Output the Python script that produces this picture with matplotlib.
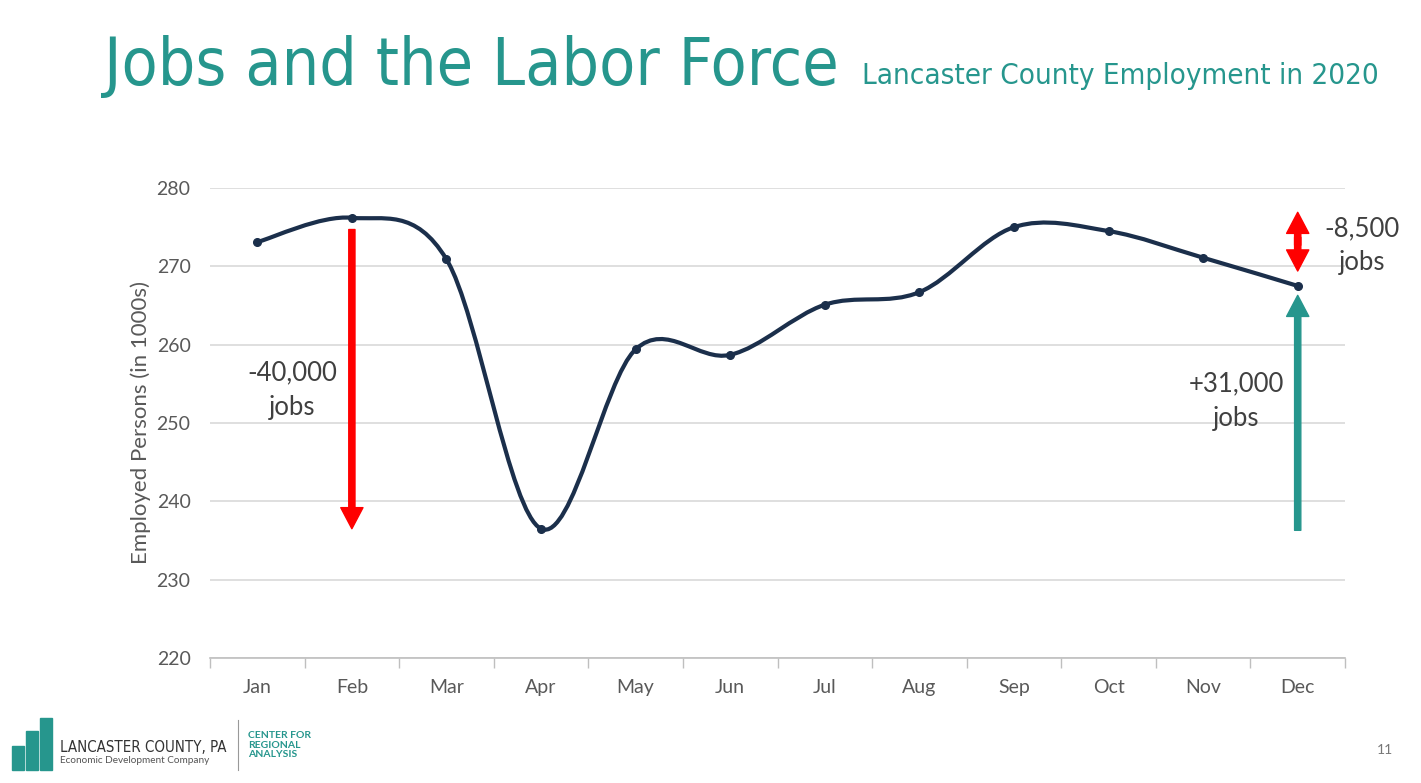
import matplotlib.pyplot as plt
import numpy as np
from matplotlib.path import Path
from matplotlib.patches import PathPatch, Rectangle

## -- data
months   = ['Jan','Feb','Mar','Apr','May','Jun','Jul','Aug','Sep','Oct','Nov','Dec']
employed = [273.1, 276.2, 270.9, 236.5, 259.4, 258.7, 265.1, 266.7, 275.0, 274.5, 271.1, 267.5]
yticks   = [220, 230, 240, 250, 260, 270, 280]

teal  = '#26968D'
navy  = '#1B2F4B'
grey  = '#595959'
W, H  = 1421, 783

plt.rcParams['font.family'] = ['Lato', 'DejaVu Sans']

def fx(px): return px / W
def fy(py): return 1 - py / H

def smooth_path(x, y):
 ## -- excel style bezier smoothing, control points from neighbours
 n = len(x)
 verts = [(x[0], y[0])]
 codes = [Path.MOVETO]
 for i in range(n - 1):
  x0, y0 = (x[i-1], y[i-1]) if i > 0 else (x[i], y[i])
  x3, y3 = (x[i+2], y[i+2]) if i < n - 2 else (x[i+1], y[i+1])
  c1 = (x[i] + (x[i+1] - x0) / 6., y[i] + (y[i+1] - y0) / 6.)
  c2 = (x[i+1] - (x3 - x[i]) / 6., y[i+1] - (y3 - y[i]) / 6.)
  verts += [c1, c2, (x[i+1], y[i+1])]
  codes += [Path.CURVE4] * 3
 return Path(verts, codes)

fig = plt.figure(figsize=(W / 100., H / 100.), dpi=100)
fig.patch.set_facecolor('white')
ax = fig.add_axes([fx(210), fy(658), fx(1345) - fx(210), (658 - 188) / H])

xs = np.arange(len(months))
ax.add_patch(PathPatch(smooth_path(xs, employed), facecolor='none',
 edgecolor=navy, lw=3, zorder=3, capstyle='round'))
ax.plot(xs, employed, linestyle='', marker='o', ms=5.5, color=navy, zorder=4)

ax.set_xlim(-0.5, len(months) - 0.5)
ax.set_ylim(yticks[0], yticks[-1])
ax.set_yticks(yticks)
ax.set_xticks(xs)
ax.set_xticklabels(months)
ax.set_xticks(np.arange(-0.5, len(months)), minor=True)
ax.tick_params(axis='x', which='major', length=0, pad=15, labelsize=14, labelcolor=grey)
ax.tick_params(axis='x', which='minor', length=7, color='#BFBFBF', width=1)
ax.tick_params(axis='y', length=0, pad=14, labelsize=14, labelcolor=grey)
ax.grid(axis='y', color='#D9D9D9', lw=1.2)
ax.set_axisbelow(True)
for s in ['left', 'right', 'top']:
 ax.spines[s].set_visible(False)
ax.spines['bottom'].set_color('#BFBFBF')
ax.spines['bottom'].set_linewidth(1.2)
ax.set_ylabel('Employed Persons (in 1000s)', fontsize=16, color=grey, labelpad=4)

## -- annotation arrows
simple = 'simple,tail_width=0.28,head_width=1.0,head_length=0.95'
arr = dict(arrowstyle=simple, mutation_scale=16, shrinkA=0, shrinkB=0)
ax.annotate('', xy=(1, employed[3]), xytext=(1, employed[1] - 1.5),
 arrowprops=dict(color='#FF0000', **arr))
ax.annotate('', xy=(11, employed[11] - 1.2), xytext=(11, employed[3] - 0.2),
 arrowprops=dict(color=teal, **arr))
mid = 273.2
ax.annotate('', xy=(11, 276.9), xytext=(11, mid - 0.5),
 arrowprops=dict(color='#FF0000', **arr))
ax.annotate('', xy=(11, 269.4), xytext=(11, mid + 0.5),
 arrowprops=dict(color='#FF0000', **arr))

txt = dict(fontsize=18.5, color='#404040', ha='center', va='center', linespacing=1.45)
ax.text(0.37, 254.2, '-40,000\njobs', **txt)
ax.text(10.35, 252.8, '+31,000\njobs', **txt)
ax.text(11.68, 272.6, '-8,500\njobs', **txt)

## -- title
fig.text(fx(104), fy(85), 'Jobs and the Labor Force', fontsize=47.5, color=teal,
 family='DejaVu Sans', stretch='condensed', ha='left', va='baseline')
fig.text(fx(862), fy(84), 'Lancaster County Employment in 2020', fontsize=21.2, color=teal,
 family='DejaVu Sans', stretch='condensed', ha='left', va='baseline')

## -- logo
for x0, top in [(12, 746), (26, 731), (40, 718)]:
 fig.add_artist(Rectangle((fx(x0), fy(770)), 12 / W, (770 - top) / H,
  transform=fig.transFigure, color=teal))
fig.text(fx(60), fy(752), 'LANCASTER COUNTY, PA', fontsize=10.8, color='#333333',
 family='DejaVu Sans', stretch='condensed', ha='left', va='baseline')
fig.text(fx(60), fy(763), 'Economic Development Company', fontsize=7.2, color='#555555',
 ha='left', va='baseline')
fig.add_artist(plt.Line2D([fx(238), fx(238)], [fy(720), fy(770)],
 transform=fig.transFigure, color='#999999', lw=0.8))
fig.text(fx(248), fy(745), 'CENTER FOR\nREGIONAL\nANALYSIS', fontsize=7.5, color=teal,
 fontweight='bold', ha='left', va='center', linespacing=1.05)
fig.text(fx(1393), fy(750), '11', fontsize=10, color='#777777', ha='right', va='center')

fig.savefig('out.png', dpi=100)
